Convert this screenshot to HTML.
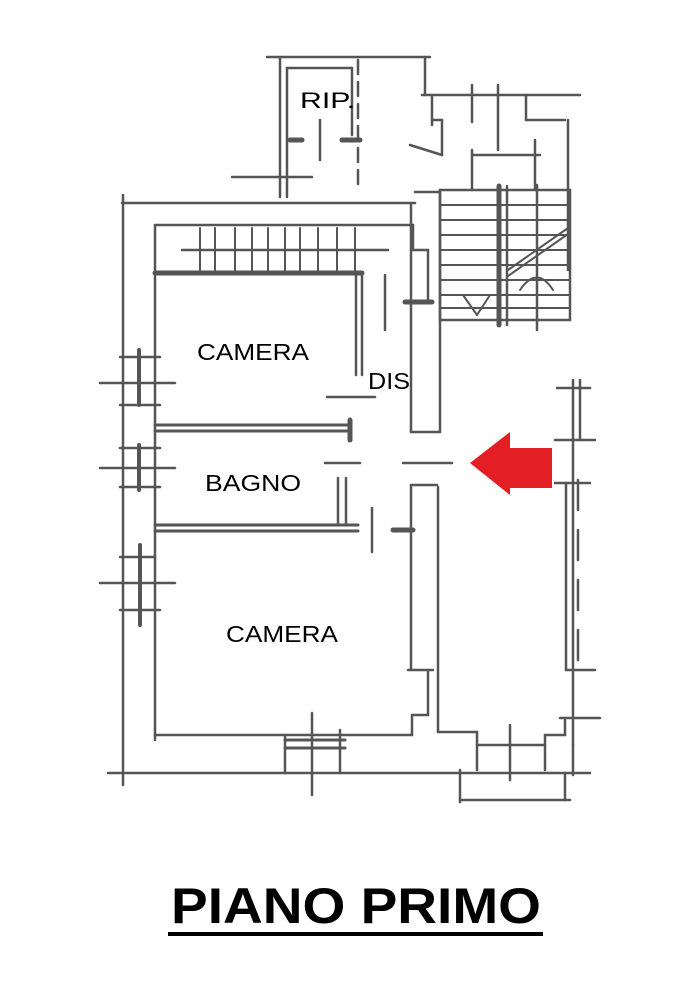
<!DOCTYPE html>
<html><head><meta charset="utf-8"><style>
html,body{margin:0;padding:0;background:#fff;width:695px;height:1005px;overflow:hidden}
svg{display:block}
text{font-family:"Liberation Sans",sans-serif;fill:#000}
</style></head><body>
<svg width="695" height="1005" viewBox="0 0 695 1005">
<g stroke="#555" stroke-width="2.5" fill="none" stroke-linecap="round">
<line x1="267" y1="57" x2="430" y2="57"/>
<line x1="280" y1="57" x2="280" y2="197"/>
<line x1="287" y1="68" x2="287" y2="197"/>
<line x1="287" y1="68" x2="352" y2="68"/>
<line x1="352" y1="68" x2="352" y2="135"/>
<line x1="358" y1="60" x2="358" y2="190" stroke-dasharray="14,8"/>
<line x1="320" y1="120" x2="320" y2="160"/>
<line x1="232" y1="177" x2="312" y2="177"/>
<line x1="290" y1="140" x2="302" y2="140" stroke-width="5"/>
<line x1="342" y1="140" x2="360" y2="140" stroke-width="5"/>
<line x1="425" y1="57" x2="425" y2="95"/>
<line x1="422" y1="95" x2="580" y2="95"/>
<line x1="432" y1="95" x2="432" y2="125"/>
<line x1="432" y1="120" x2="442" y2="120"/>
<line x1="442" y1="120" x2="442" y2="155"/>
<line x1="410" y1="145" x2="442" y2="155"/>
<line x1="472" y1="85" x2="472" y2="122"/>
<line x1="498" y1="85" x2="498" y2="150"/>
<line x1="526" y1="95" x2="526" y2="120"/>
<line x1="526" y1="120" x2="565" y2="120"/>
<line x1="568" y1="120" x2="568" y2="270"/>
<line x1="472" y1="155" x2="540" y2="155"/>
<line x1="472" y1="150" x2="472" y2="190"/>
<line x1="535" y1="140" x2="535" y2="190"/>
<line x1="122" y1="203" x2="415" y2="203"/>
<line x1="415" y1="192" x2="440" y2="192"/>
<line x1="123" y1="195" x2="123" y2="785"/>
<line x1="155" y1="225" x2="155" y2="740"/>
<line x1="155" y1="225" x2="413" y2="225"/>
<line x1="413" y1="225" x2="413" y2="250"/>
<line x1="413" y1="250" x2="428" y2="250"/>
<line x1="428" y1="250" x2="428" y2="300"/>
<line x1="182" y1="250" x2="388" y2="250"/>
<line x1="155" y1="273" x2="362" y2="273" stroke-width="5"/>
<line x1="362" y1="273" x2="362" y2="375"/>
<line x1="356" y1="273" x2="356" y2="375"/>
<line x1="385" y1="275" x2="385" y2="330"/>
<line x1="405" y1="302" x2="432" y2="302" stroke-width="5"/>
<line x1="327" y1="397" x2="375" y2="397"/>
<g stroke-width="2">
<line x1="200" y1="228" x2="200" y2="270"/><line x1="215" y1="228" x2="215" y2="270"/>
<line x1="235" y1="228" x2="235" y2="270"/><line x1="252" y1="228" x2="252" y2="270"/>
<line x1="268" y1="228" x2="268" y2="270"/><line x1="285" y1="228" x2="285" y2="270"/>
<line x1="300" y1="228" x2="300" y2="270"/><line x1="318" y1="228" x2="318" y2="270"/>
<line x1="337" y1="228" x2="337" y2="270"/><line x1="355" y1="228" x2="355" y2="270"/>
</g>
<line x1="411" y1="205" x2="411" y2="432"/>
<line x1="440" y1="190" x2="440" y2="432"/>
<line x1="411" y1="432" x2="440" y2="432"/>
<rect x="440" y="190" width="130" height="130"/>
<g stroke-width="2">
<line x1="440" y1="205" x2="570" y2="205"/><line x1="440" y1="220" x2="570" y2="220"/>
<line x1="440" y1="235" x2="570" y2="235"/><line x1="440" y1="250" x2="570" y2="250"/>
<line x1="440" y1="265" x2="570" y2="265"/><line x1="440" y1="280" x2="570" y2="280"/>
<line x1="440" y1="295" x2="570" y2="295"/><line x1="440" y1="308" x2="570" y2="308"/>
<line x1="508" y1="270" x2="568" y2="228"/><line x1="508" y1="276" x2="568" y2="234"/>
<line x1="463" y1="295" x2="477" y2="315"/><line x1="490" y1="295" x2="477" y2="315"/>
<path d="M520 290 Q537 265 553 290"/>
<line x1="537" y1="268" x2="537" y2="290"/>
</g>
<line x1="499" y1="186" x2="499" y2="325" stroke-width="5"/>
<line x1="507" y1="186" x2="507" y2="325"/>
<line x1="537" y1="185" x2="537" y2="330"/>
<line x1="573" y1="380" x2="573" y2="745"/>
<line x1="580" y1="380" x2="580" y2="440" />
<line x1="557" y1="388" x2="590" y2="388"/>
<line x1="555" y1="440" x2="595" y2="440"/>
<line x1="566" y1="483" x2="566" y2="670"/>
<line x1="555" y1="483" x2="590" y2="483"/>
<line x1="566" y1="670" x2="595" y2="670"/>
<line x1="578" y1="480" x2="578" y2="660" stroke-dasharray="30,20"/>
<line x1="560" y1="718" x2="600" y2="718"/>
<line x1="155" y1="425" x2="350" y2="425" stroke-width="3"/>
<line x1="155" y1="431" x2="350" y2="431" stroke-width="3"/>
<line x1="350" y1="420" x2="350" y2="440" stroke-width="5"/>
<line x1="325" y1="463" x2="360" y2="463"/>
<line x1="403" y1="463" x2="452" y2="463"/>
<line x1="338" y1="478" x2="338" y2="525"/>
<line x1="346" y1="478" x2="346" y2="525"/>
<line x1="155" y1="525" x2="358" y2="525" stroke-width="3"/>
<line x1="155" y1="531" x2="358" y2="531" stroke-width="3"/>
<line x1="372" y1="508" x2="372" y2="552"/>
<line x1="393" y1="530" x2="413" y2="530" stroke-width="5"/>
<line x1="411" y1="485" x2="411" y2="670"/>
<line x1="411" y1="485" x2="437" y2="485"/>
<line x1="438" y1="487" x2="438" y2="732"/>
<line x1="408" y1="670" x2="433" y2="670"/>
<line x1="428" y1="670" x2="428" y2="715"/>
<line x1="412" y1="715" x2="428" y2="715"/>
<line x1="412" y1="715" x2="412" y2="735"/>
<line x1="438" y1="732" x2="477" y2="732"/>
<line x1="477" y1="732" x2="477" y2="770"/>
<line x1="477" y1="745" x2="545" y2="745"/>
<line x1="545" y1="735" x2="545" y2="770"/>
<line x1="545" y1="735" x2="565" y2="735"/>
<line x1="565" y1="720" x2="565" y2="735"/>
<line x1="510" y1="725" x2="510" y2="780"/>
<line x1="155" y1="735" x2="412" y2="735"/>
<line x1="108" y1="773" x2="590" y2="773"/>
<line x1="285" y1="740" x2="345" y2="740" stroke-width="3"/>
<line x1="285" y1="748" x2="345" y2="748" stroke-width="3"/>
<line x1="285" y1="735" x2="285" y2="773"/>
<line x1="340" y1="730" x2="340" y2="773"/>
<line x1="312" y1="713" x2="312" y2="795"/>
<line x1="460" y1="770" x2="460" y2="802"/>
<line x1="460" y1="800" x2="570" y2="800"/>
<line x1="565" y1="773" x2="565" y2="800"/>
<line x1="573" y1="745" x2="573" y2="775"/>
<line x1="100" y1="383" x2="175" y2="383"/>
<line x1="120" y1="357" x2="160" y2="357"/><line x1="120" y1="405" x2="160" y2="405"/>
<line x1="139" y1="350" x2="139" y2="405" stroke-width="4"/>
<line x1="100" y1="468" x2="175" y2="468"/>
<line x1="120" y1="448" x2="160" y2="448"/><line x1="120" y1="487" x2="160" y2="487"/>
<line x1="139" y1="445" x2="139" y2="490" stroke-width="4"/>
<line x1="100" y1="583" x2="175" y2="583"/>
<line x1="120" y1="557" x2="155" y2="557"/><line x1="120" y1="610" x2="160" y2="610"/>
<line x1="140" y1="545" x2="140" y2="625" stroke-width="4"/>
</g>
<polygon points="470,463 510,432 510,448 552,448 552,488 510,488 510,495" fill="#e31e24"/>
<text x="300" y="108" font-size="22" textLength="55" lengthAdjust="spacingAndGlyphs">RIP.</text>
<text x="197" y="360" font-size="23" textLength="112" lengthAdjust="spacingAndGlyphs">CAMERA</text>
<text x="368" y="389" font-size="23" textLength="42" lengthAdjust="spacingAndGlyphs">DIS</text>
<text x="205" y="491" font-size="23" textLength="96" lengthAdjust="spacingAndGlyphs">BAGNO</text>
<text x="226" y="642" font-size="23" textLength="112" lengthAdjust="spacingAndGlyphs">CAMERA</text>
<text x="171" y="923" font-size="50" font-weight="bold" textLength="370" lengthAdjust="spacingAndGlyphs">PIANO PRIMO</text>
<rect x="168" y="932" width="375" height="4" fill="#000"/>
</svg>
</body></html>
